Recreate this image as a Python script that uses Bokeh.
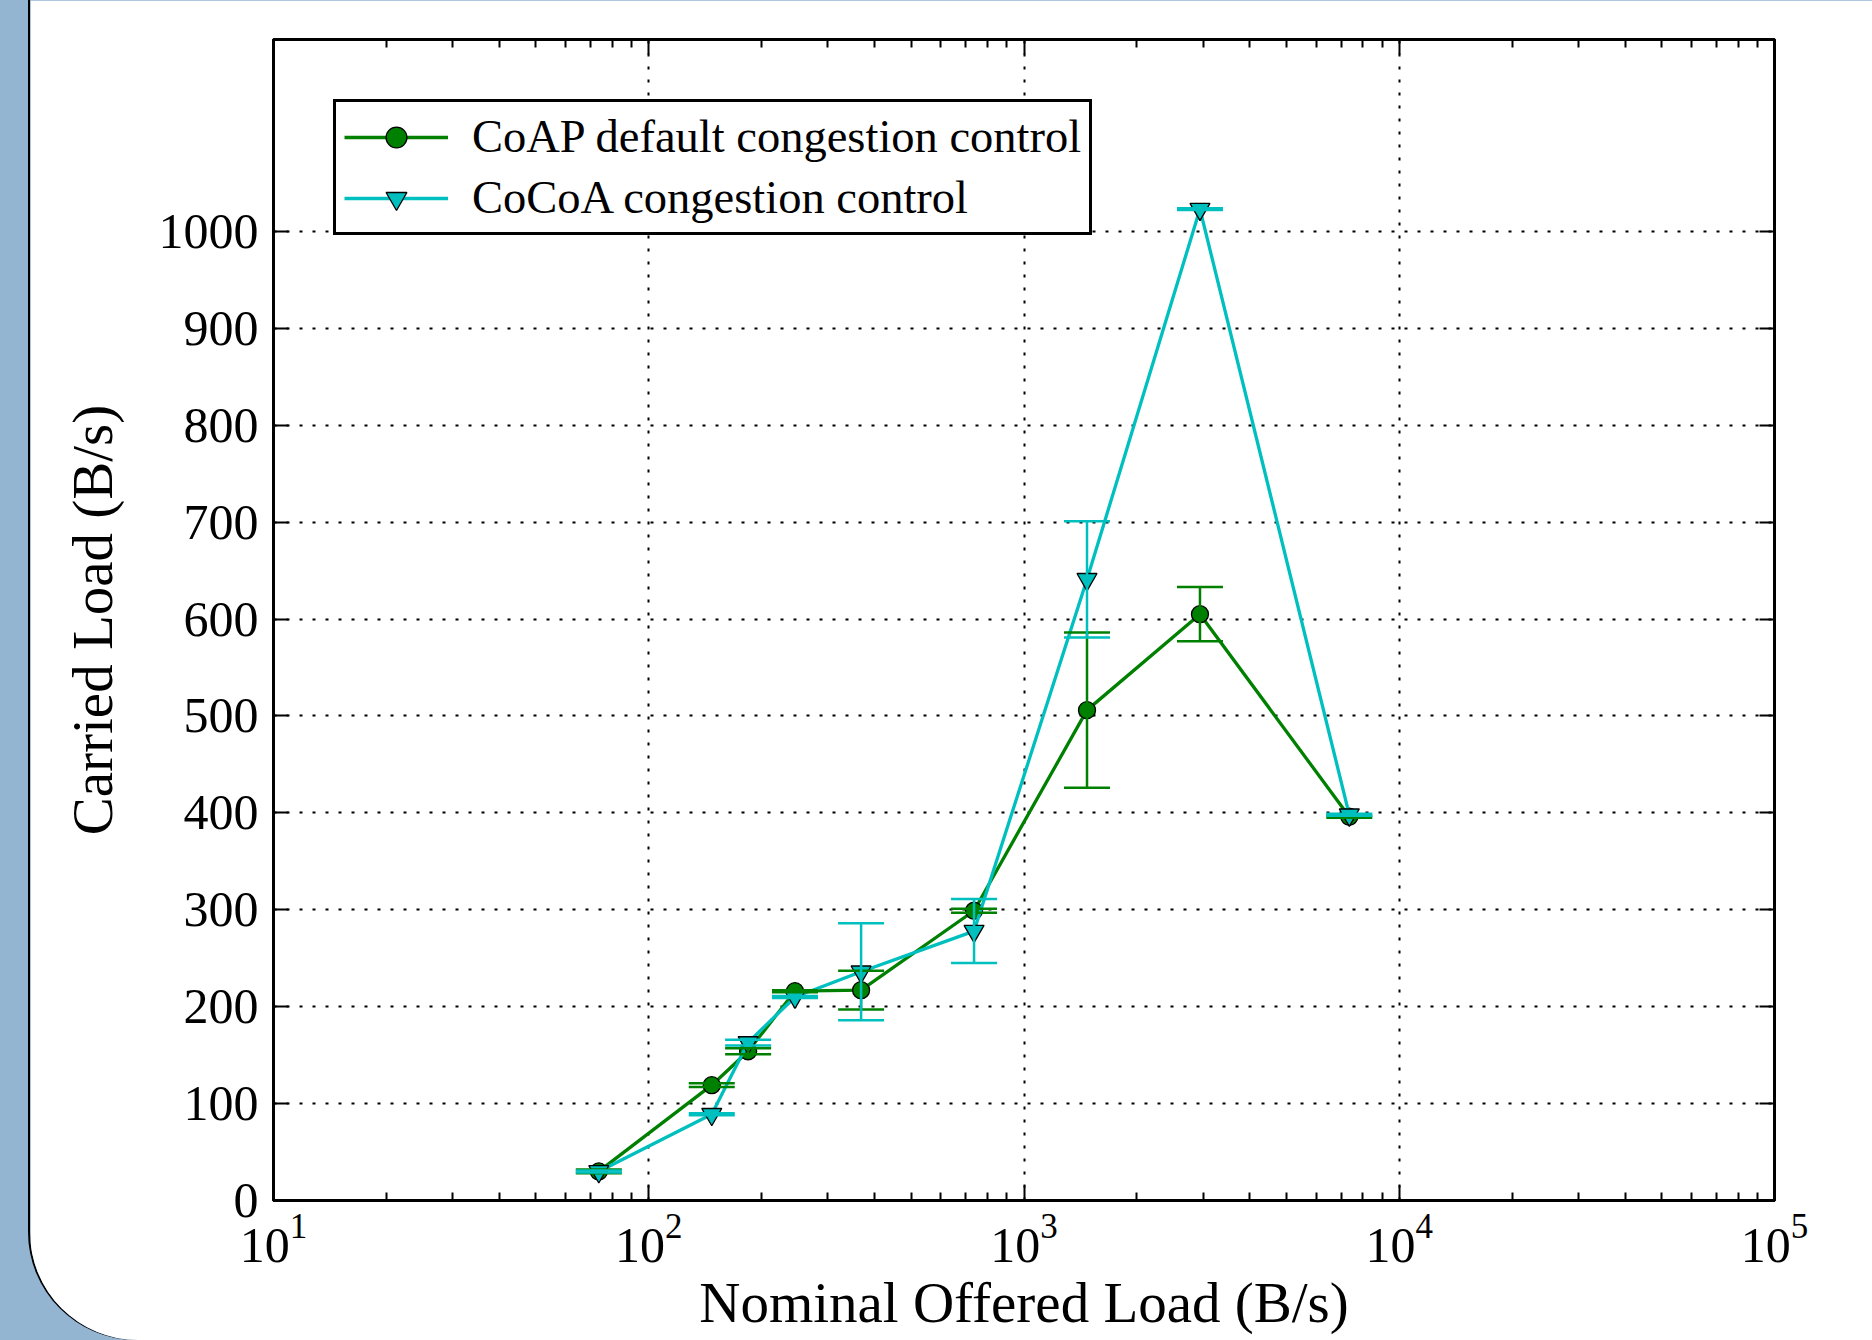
from bokeh.plotting import figure
from bokeh.models import (ColumnDataSource, Whisker, TeeHead, FixedTicker, LogAxis,
                          LinearAxis, Legend, LegendItem, Spacer)
from bokeh.layouts import row
from bokeh.embed import file_html
from bokeh.resources import INLINE

# ---- data ----
offered_load = [73.6, 147.2, 184.0, 245.3, 368.0, 736.0, 1472.0, 2944.0, 7360.0]
coap_mean = [30, 119, 154, 216, 217, 299, 506, 605, 396]
coap_err = [2, 2, 3, 1, 20, 2, 80, 28, 1]
cocoa_mean = [30, 89, 163, 210, 236, 278, 641, 1023, 398]
cocoa_err = [1, 1, 3, 1, 50, 33, 60, 1, 1]

x_ticks = [10, 100, 1000, 10000, 100000]
y_ticks = [0, 100, 200, 300, 400, 500, 600, 700, 800, 900, 1000]
series_names = ["CoAP default congestion control", "CoCoA congestion control"]

GREEN = "#008000"
CYAN = "#00BFBF"
FONT = "Liberation Serif"

x_minor = [k * 10 ** n for n in range(1, 5) for k in range(2, 10)]

p = figure(width=1842, height=1340, x_axis_type="log", x_range=(10, 1e5), y_range=(0, 1198),
           output_backend="svg", toolbar_location=None,
           min_border_left=243, min_border_right=98, min_border_top=39, min_border_bottom=140,
           background_fill_color="white", border_fill_color="white")
p.styles = {"border-bottom-left-radius": "108px", "overflow": "hidden",
            "box-shadow": "-2px 0 0 0 black"}

p.outline_line_color = "black"
p.outline_line_width = 3

xt = FixedTicker(ticks=x_ticks, minor_ticks=x_minor)
yt = FixedTicker(ticks=y_ticks, minor_ticks=[])

for ax in [p.xaxis[0], p.yaxis[0]]:
    ax.axis_line_width = 3
    ax.major_tick_in = 15
    ax.major_tick_out = 0
    ax.minor_tick_in = 8
    ax.minor_tick_out = 0
    ax.major_tick_line_width = 2
    ax.minor_tick_line_width = 2
    ax.major_label_text_font = FONT
    ax.major_label_text_font_size = "50px"
    ax.major_label_text_color = "black"
    ax.axis_label_text_font = FONT
    ax.axis_label_text_font_size = "57px"
    ax.axis_label_text_font_style = "normal"
    ax.axis_label_text_color = "black"

p.xaxis.ticker = xt
p.yaxis.ticker = yt
p.xaxis.axis_label = "Nominal Offered Load (B/s)"
p.yaxis.axis_label = "Carried Load (B/s)"
p.xaxis.major_label_standoff = 14
p.yaxis.major_label_standoff = 15
p.xaxis.axis_label_standoff = 6
p.yaxis.axis_label_standoff = 32

top = LogAxis(ticker=xt, axis_line_width=3, major_tick_in=15, major_tick_out=0,
              minor_tick_in=8, minor_tick_out=0, major_tick_line_width=2, minor_tick_line_width=2,
              major_label_text_font_size="2px", major_label_text_alpha=0, major_label_standoff=0)
right = LinearAxis(ticker=yt, axis_line_width=3, major_tick_in=15, major_tick_out=0,
                   minor_tick_in=0, minor_tick_out=0, major_tick_line_width=2,
                   major_label_text_font_size="2px", major_label_text_alpha=0,
                   major_label_standoff=0)
p.add_layout(top, "above")
p.add_layout(right, "right")

p.xgrid.ticker = FixedTicker(ticks=x_ticks[1:-1])
p.ygrid.ticker = FixedTicker(ticks=y_ticks[1:])
for g in [p.xgrid[0], p.ygrid[0]]:
    g.grid_line_color = "black"
    g.grid_line_dash = "3 10"
    g.grid_line_width = 2

items = []
for name, mean, err, color, marker, size in [
        (series_names[0], coap_mean, coap_err, GREEN, "circle", 17),
        (series_names[1], cocoa_mean, cocoa_err, CYAN, "inverted_triangle", 20)]:
    src = ColumnDataSource(dict(x=offered_load, y=mean,
                                lo=[m - e for m, e in zip(mean, err)],
                                hi=[m + e for m, e in zip(mean, err)]))
    w = Whisker(source=src, base="x", lower="lo", upper="hi", dimension="height",
                line_color=color, line_width=2.5, level="glyph",
                upper_head=TeeHead(size=46, line_color=color, line_width=2.5),
                lower_head=TeeHead(size=46, line_color=color, line_width=2.5))
    p.add_layout(w)
    ln = p.line("x", "y", source=src, line_color=color, line_width=3.3)
    sc = p.scatter("x", "y", source=src, marker=marker, size=size, fill_color=color,
                   line_color="black", line_width=1.3)
    items.append(LegendItem(label=name, renderers=[ln, sc]))

legend = Legend(items=items, location="top_left", margin=60, padding=8, spacing=8,
                glyph_width=104, glyph_height=52, label_height=52, label_standoff=24,
                label_text_font=FONT, label_text_font_size="46.5px", label_text_color="black",
                border_line_color="black", border_line_width=3, border_line_alpha=1.0,
                background_fill_color="white", background_fill_alpha=1.0)
p.add_layout(legend, "center")

layout = row(Spacer(width=30, height=1340), p, styles={"background-color": "#94B5D2"})

open("out.html", "w").write(file_html(layout, INLINE))
